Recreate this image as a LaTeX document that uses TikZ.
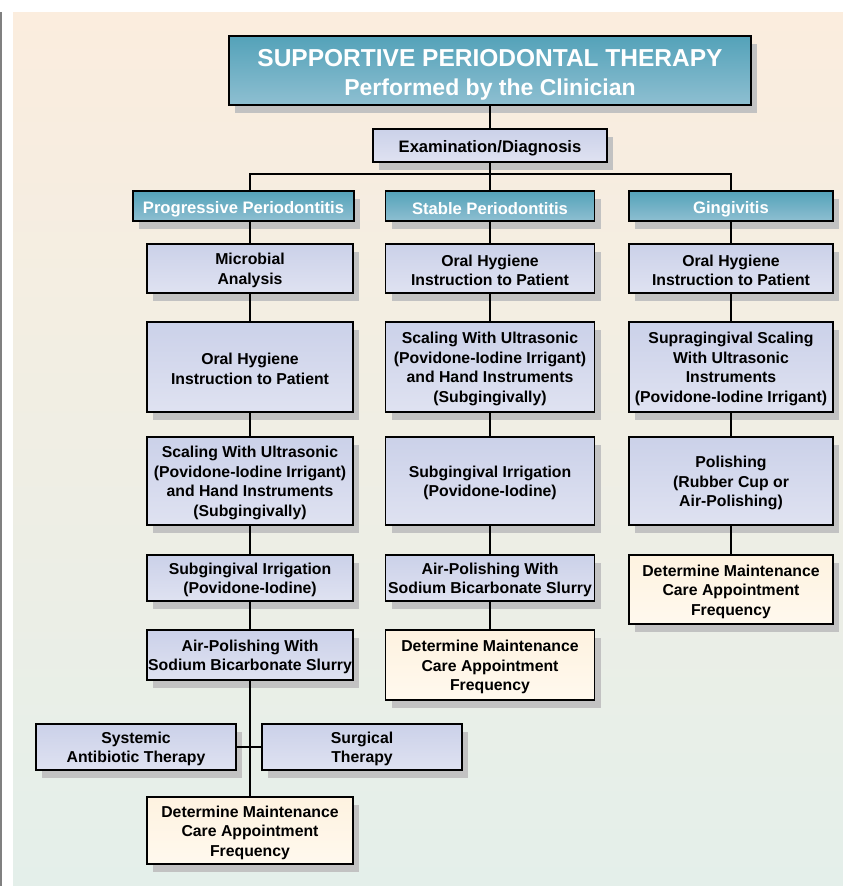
\documentclass[tikz,border=0pt]{standalone}
\usepackage{fontspec}
\setmainfont{Liberation Sans}
\usetikzlibrary{shadows,positioning}
\definecolor{bgtop}{RGB}{251,237,222}
\definecolor{bgbot}{RGB}{228,239,234}
\definecolor{lavtop}{RGB}{203,209,233}
\definecolor{lavbot}{RGB}{223,226,241}
\definecolor{tealtop}{RGB}{84,162,185}
\definecolor{tealbot}{RGB}{142,191,209}
\definecolor{cremtop}{RGB}{254,242,224}
\definecolor{crembot}{RGB}{255,249,238}
\newcommand{\boxfont}{\fontsize{15.8}{19.5}\selectfont\bfseries}
\newcommand{\catfont}{\fontsize{16.6}{19.5}\selectfont\bfseries}
\newcommand{\headfont}{\fontsize{24.5}{29}\selectfont\bfseries}
\newcommand{\lift}{\rule{0pt}{15.5pt}}% first line a bit taller, text sits lower
\tikzset{
  blk/.style={draw,rectangle,line width=1.8pt,align=center,inner xsep=1pt,inner ysep=2pt,
    execute at begin node={\rule{0pt}{0.92\baselineskip}},
    general shadow={fill=black!24,shadow xshift=6pt,shadow yshift=-8pt}},
  lavblk/.style={blk,top color=lavtop,bottom color=lavbot,font=\boxfont},
  detblk/.style={blk,top color=cremtop,bottom color=crembot,font=\boxfont},
  tealblk/.style={blk,top color=tealtop,bottom color=tealbot,text=white,font=\catfont},
  sz/.style 2 args={minimum width=#1,minimum height=#2},
  conn/.style={line width=1.8pt}
}

\begin{document}
\begin{tikzpicture}[x=1pt,y=-1pt]
  \useasboundingbox (0,0) rectangle (843,886);
  \fill[top color=bgtop,bottom color=bgbot] (13,12) rectangle (843,886);
  \draw[gray,line width=2pt] (1,12) -- (1,886);

  % top of the tree
  \node[tealblk,sz={522}{69},font=\headfont] (title) at (490,70.5)
    {\rule{0pt}{25pt}SUPPORTIVE PERIODONTAL THERAPY\\{\fontsize{23}{26.5}\selectfont Performed by the Clinician}};
  \node[lavblk,sz={234}{33},font=\catfont] (exam) at (490,145.5) {Examination/Diagnosis};
  \coordinate (bus) at (490,174);
  \node[tealblk,sz={221}{30}] (prog) at (243.5,206) {Progressive Periodontitis};
  \node[tealblk,sz={209}{30}] (stab) at (490,206) {Stable Periodontitis};
  \node[tealblk,sz={204}{30}] (ging) at (731,206) {Gingivitis};

  % progressive periodontitis
  \node[lavblk,sz={206}{49}] (pmic) at (250,268.5) {\lift Microbial\\Analysis};
  \node[lavblk,sz={206}{90}] (pohi) at (250,367) {\lift Oral Hygiene\\Instruction to Patient};
  \node[lavblk,sz={206}{88}] (pscl) at (250,481)
    {\lift Scaling With Ultrasonic\\(Povidone-Iodine Irrigant)\\and Hand Instruments\\(Subgingivally)};
  \node[lavblk,sz={206}{46}] (pirr) at (250,578) {\lift Subgingival Irrigation\\(Povidone-Iodine)};
  \node[lavblk,sz={206}{50}] (pair) at (250,655) {\lift Air-Polishing With\\Sodium Bicarbonate Slurry};
  \node[lavblk,sz={200}{46}] (psys) at (136,747) {\lift Systemic\\Antibiotic Therapy};
  \node[lavblk,sz={200}{46}] (psur) at (362,747) {\lift Surgical\\Therapy};
  \node[detblk,sz={206}{67}] (pdet) at (250,830.5) {\lift Determine Maintenance\\Care Appointment\\Frequency};

  % stable periodontitis
  \node[lavblk,sz={209}{49}] (sohi) at (490,268.5) {\lift Oral Hygiene\\Instruction to Patient};
  \node[lavblk,sz={209}{90}] (sscl) at (490,367)
    {\lift Scaling With Ultrasonic\\(Povidone-Iodine Irrigant)\\and Hand Instruments\\(Subgingivally)};
  \node[lavblk,sz={209}{88}] (sirr) at (490,481) {\lift Subgingival Irrigation\\(Povidone-Iodine)};
  \node[lavblk,sz={209}{46}] (sair) at (490,578) {\lift Air-Polishing With\\Sodium Bicarbonate Slurry};
  \node[detblk,sz={209}{70}] (sdet) at (490,665) {\lift Determine Maintenance\\Care Appointment\\Frequency};

  % gingivitis
  \node[lavblk,sz={204}{49}] (gohi) at (731,268.5) {\lift Oral Hygiene\\Instruction to Patient};
  \node[lavblk,sz={204}{90}] (gscl) at (731,367)
    {\lift Supragingival Scaling\\With Ultrasonic\\Instruments\\(Povidone-Iodine Irrigant)};
  \node[lavblk,sz={204}{88}] (gpol) at (731,481) {\lift Polishing\\(Rubber Cup or\\Air-Polishing)};
  \node[detblk,sz={204}{69}] (gdet) at (731,589.5) {\lift Determine Maintenance\\Care Appointment\\Frequency};

  % connectors
  \draw[conn] (title.south) -- (exam.north);
  \draw[conn] (exam.south) -- (bus) -| (ging.north);
  \draw[conn] (bus) -| (pmic.north |- prog.north);
  \draw[conn] (bus) -- (stab.north);
  \draw[conn] (pmic.north |- prog.south) -- (pmic.north);
  \foreach \a/\b in {pmic/pohi,pohi/pscl,pscl/pirr,pirr/pair,pair/pdet,
                     stab/sohi,sohi/sscl,sscl/sirr,sirr/sair,sair/sdet,
                     ging/gohi,gohi/gscl,gscl/gpol,gpol/gdet}
    \draw[conn] (\a.south) -- (\b.north);
  \draw[conn] (psys.east) -- (psur.west);
\end{tikzpicture}
\end{document}
